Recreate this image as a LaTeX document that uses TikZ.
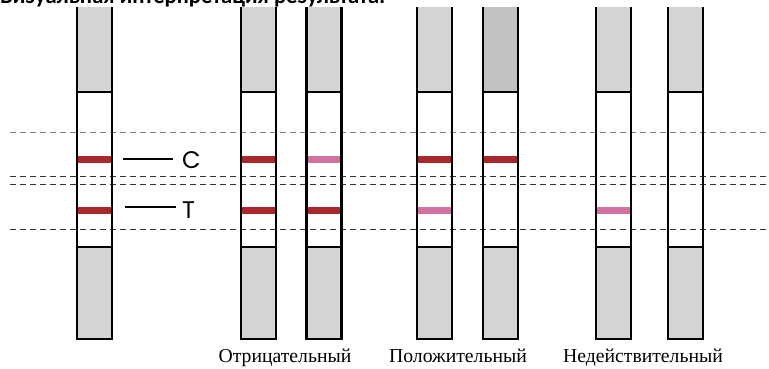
\documentclass[tikz,border=0pt]{standalone}
\usepackage{fontspec}
\setmainfont{Liberation Serif}
\newfontfamily\titlefont{Carlito}
\newfontfamily\lblfont{Poppins}
\definecolor{stripgrey}{HTML}{D4D4D4}
\definecolor{stripdark}{HTML}{C2C2C2}
\definecolor{bandred}{HTML}{A8282C}
\definecolor{bandpink}{HTML}{D272A2}
\definecolor{dashgrey}{HTML}{808080}
\definecolor{dashdark}{HTML}{333333}
\tikzset{
  stripedge/.style={line width=2.2pt, black},
  guide/.style={line width=1pt, dash pattern=on 6pt off 4pt},
  marker/.style={line width=1.3pt, black},
  caption/.style={font=\fontsize{19.7}{23}\selectfont, anchor=base},
  letter/.style={font=\lblfont\fontsize{24}{28}\selectfont, anchor=west, inner sep=0pt},
}
\begin{document}
\begin{tikzpicture}[x=1pt,y=-1pt]
\useasboundingbox (0,0) rectangle (769,368);
\fill[white] (0,0) rectangle (769,368);
% title (partially cut off at top, as in the reference)
\node[anchor=base west, inner sep=0pt, font=\titlefont\bfseries\fontsize{22.6}{26}\selectfont] (title) at (0,3) {Визуальная интерпретация результата:};
% strip fills: x, top colour, C colour, T colour
\foreach \x/\tc/\cc/\ttc in {77/stripgrey/bandred/bandred, 241/stripgrey/bandred/bandred, 306.5/stripgrey/bandpink/bandred, 417/stripgrey/bandred/bandpink, 483/stripdark/bandred/white, 596/stripgrey/white/bandpink, 668/stripgrey/white/white}{
  \fill[\tc] (\x,7) rectangle ++(35,85);
  \fill[stripgrey] (\x,247) rectangle ++(35,92);
  \fill[\cc] (\x,155.5) rectangle ++(35,7.5);
  \fill[\ttc] (\x,206.5) rectangle ++(35,7.5);
}
% guide lines
\draw[guide, dashgrey] (10,132) -- (769,132);
\draw[guide, dashdark] (10,176) -- (769,176);
\draw[guide, dashdark] (10,184) -- (769,184);
\draw[guide, dashdark] (10,229) -- (769,229);
% strip outlines
\foreach \x in {77,241,306.5,417,483,596,668}{
  \draw[stripedge] (\x,7) -- (\x,339) -- ++(35,0) -- ++(0,-332);
  \draw[stripedge] (\x,92) -- ++(35,0);
  \draw[stripedge] (\x,247) -- ++(35,0);
}
% C / T labels
\node[letter] (C) at (182,160) {C};
\node[letter] (T) at (182,210) {T};
\coordinate (cstart) at (123,159);
\coordinate (cend) at (173,159);
\coordinate (tstart) at (125,207);
\coordinate (tend) at (176,207);
\draw[marker] (cstart) -- (cend);
\draw[marker] (tstart) -- (tend);
% captions
\node[caption] (neg) at (285,362) {Отрицательный};
\node[caption] (pos) at (458,362) {Положительный};
\node[caption] (inv) at (643,362) {Недействительный};
\end{tikzpicture}
\end{document}
